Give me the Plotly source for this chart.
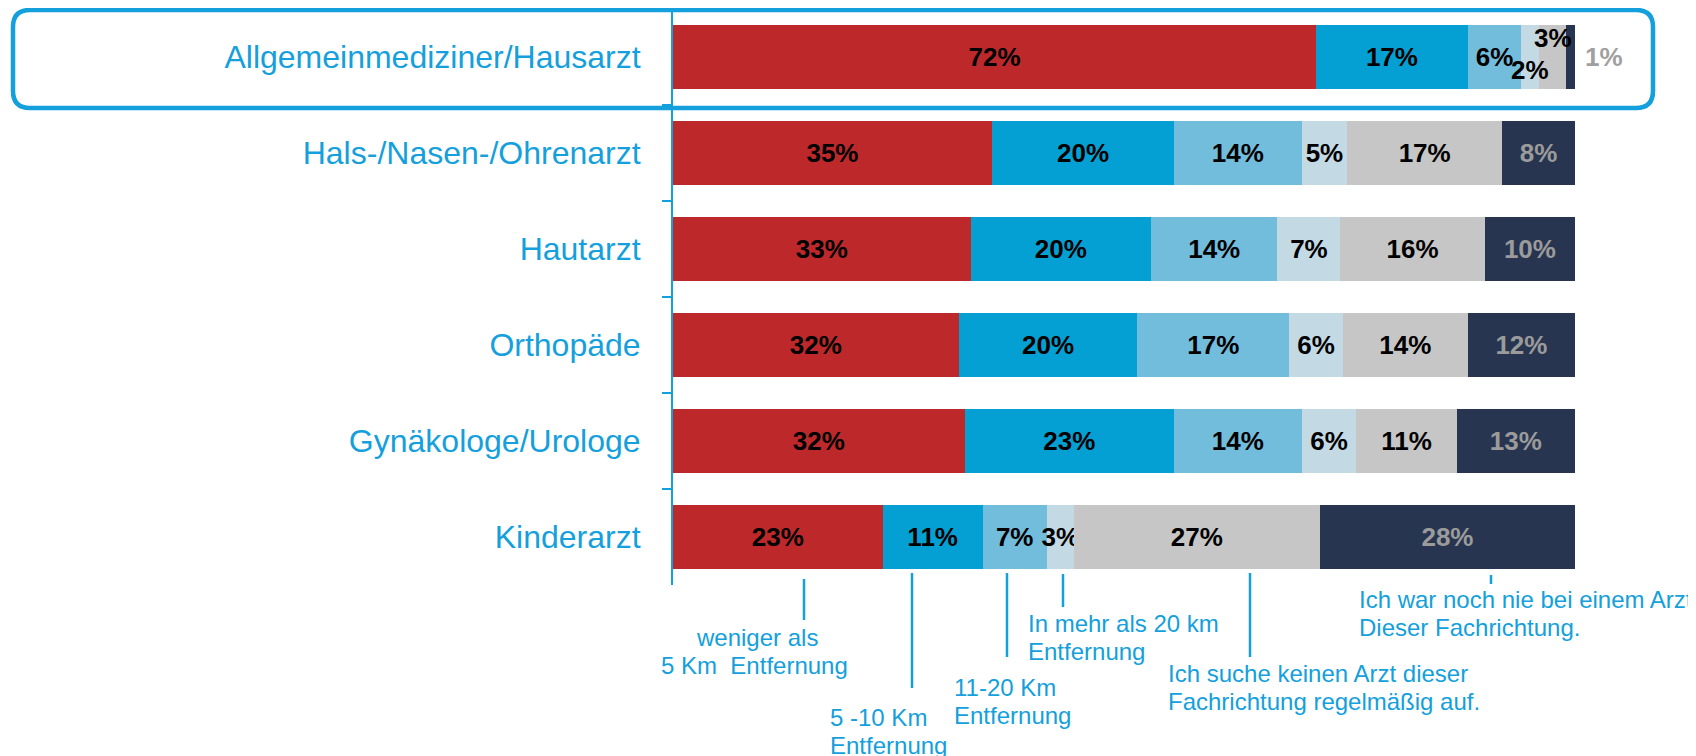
import plotly.graph_objects as go

# ---------------- data ----------------
categories = ["Allgemeinmediziner/Hausarzt", "Hals-/Nasen-/Ohrenarzt", "Hautarzt",
              "Orthopäde", "Gynäkologe/Urologe", "Kinderarzt"]

under_5km = [72, 35, 33, 32, 32, 23]
km_5_10 = [17, 20, 20, 20, 23, 11]
km_11_20 = [6, 14, 14, 17, 14, 7]
over_20km = [2, 5, 7, 6, 6, 3]
no_regular = [3, 17, 16, 14, 11, 27]
never_visited = [1, 8, 10, 12, 13, 28]

series_names = ["weniger als 5 Km Entfernung", "5 -10 Km Entfernung", "11-20 Km Entfernung",
                "In mehr als 20 km Entfernung",
                "Ich suche keinen Arzt dieser Fachrichtung regelmäßig auf.",
                "Ich war noch nie bei einem Arzt Dieser Fachrichtung."]
series_values = [under_5km, km_5_10, km_11_20, over_20km, no_regular, never_visited]

# ---------------- style ----------------
seg_colors = ["#BD282B", "#05A0D3", "#72BCDC", "#C3DAE5", "#C6C6C6", "#283550"]
label_colors = ["#000000", "#000000", "#000000", "#000000", "#000000", "#9B9B9B"]
BLUE = "#14A0DC"
FONT = "Liberation Sans, Arial, sans-serif"

OFF = 8  # page body margin
W, H = 1696 - OFF, 756 - OFF
PL, PR, PT, PB = 673 - OFF, 1575 - OFF, 9 - OFF, 585 - OFF


def px(x):
    return (x - OFF - PL) / (PR - PL)


def py(y):
    return (PB - (y - OFF)) / (PB - PT)


fig = go.Figure()

# small segments in the first row get their labels placed outside the bar
offset_labels = {3, 4, 5}

for i, (name, vals) in enumerate(zip(series_names, series_values)):
    texts = []
    for j, v in enumerate(vals):
        if j == 0 and i in offset_labels:
            texts.append("")
        else:
            texts.append(f"{v}%")
    fig.add_trace(go.Bar(
        y=categories, x=vals, orientation="h", name=name,
        marker=dict(color=seg_colors[i], line=dict(width=0)),
        text=texts, textposition="inside", insidetextanchor="middle", textangle=0,
        textfont=dict(family=FONT, size=26, color=label_colors[i], weight="bold"),
        hoverinfo="skip",
    ))

# midpoints of the first row's segments (normalised like barnorm="percent")
row0 = [s[0] for s in series_values]
tot0 = sum(row0)
cum = 0
mids = []
for v in row0:
    mids.append((cum + v / 2) / tot0 * 100)
    cum += v

annotations = []
annotations.append(dict(x=mids[3], y=categories[0], xref="x", yref="y", text=f"{row0[3]}%",
                        showarrow=False, yshift=-13, xanchor="center", yanchor="middle",
                        font=dict(family=FONT, size=26, color="#000000", weight="bold")))
annotations.append(dict(x=mids[4], y=categories[0], xref="x", yref="y", text=f"{row0[4]}%",
                        showarrow=False, yshift=19, xanchor="center", yanchor="middle",
                        font=dict(family=FONT, size=26, color="#000000", weight="bold")))
annotations.append(dict(x=100, y=categories[0], xref="x", yref="y", text=f"{row0[5]}%",
                        showarrow=False, xshift=8, xanchor="left", yanchor="middle",
                        font=dict(family=FONT, size=26, color="#A0A0A0", weight="bold")))

# callout legend below the chart (reference pixel positions)
callouts = [
    (804, 579, 620, [("weniger als", 757, 637, "center"), ("5 Km\u00a0 Entfernung", 754, 665, "center")]),
    (912, 573, 688, [("5 -10 Km", 828, 717, "left"), ("Entfernung", 828, 745, "left")]),
    (1007, 573, 657, [("11-20 Km", 952, 687, "left"), ("Entfernung", 952, 715, "left")]),
    (1063, 574, 607, [("In mehr als 20 km", 1026, 623, "left"), ("Entfernung", 1026, 651, "left")]),
    (1250, 573, 657, [("Ich suche keinen Arzt dieser", 1166, 673, "left"),
                      ("Fachrichtung regelmäßig auf.", 1166, 701, "left")]),
    (1491, 575, 584, [("Ich war noch nie bei einem Arzt", 1357, 599, "left"),
                      ("Dieser Fachrichtung.", 1357, 627, "left")]),
]

shapes = []
for lx, ly0, ly1, lines in callouts:
    shapes.append(dict(type="line", xref="paper", yref="paper",
                       x0=px(lx), x1=px(lx), y0=py(ly0), y1=py(ly1),
                       line=dict(color=BLUE, width=2.5)))
    for t, tx, ty, anc in lines:
        annotations.append(dict(x=px(tx), y=py(ty), xref="paper", yref="paper", text=t,
                                showarrow=False, xanchor=anc, yanchor="middle",
                                font=dict(family=FONT, size=24, color=BLUE)))

# rounded highlight box around the first row
x0, x1, y0, y1, r = 13, 1653, 10, 108, 17
pts = [
    ("M", x0 + r, y0), ("L", x1 - r, y0), ("Q", x1, y0, x1, y0 + r), ("L", x1, y1 - r),
    ("Q", x1, y1, x1 - r, y1), ("L", x0 + r, y1), ("Q", x0, y1, x0, y1 - r), ("L", x0, y0 + r),
    ("Q", x0, y0, x0 + r, y0),
]
path = ""
for p in pts:
    cmd = p[0]
    coords = p[1:]
    seg = []
    for k in range(0, len(coords), 2):
        seg.append(f"{px(coords[k]):.5f},{py(coords[k + 1]):.5f}")
    path += cmd + " " + " ".join(seg) + " "
path += "Z"
shapes.append(dict(type="path", xref="paper", yref="paper", path=path,
                   line=dict(color=BLUE, width=4.5), fillcolor="rgba(0,0,0,0)", layer="above"))

fig.update_layout(
    width=W, height=H,
    margin=dict(l=PL, r=W - PR, t=PT, b=H - PB, pad=0),
    barmode="stack", barnorm="percent", bargap=0.333,
    plot_bgcolor="white", paper_bgcolor="white",
    showlegend=False,
    uniformtext=dict(minsize=26, mode="show"),
    xaxis=dict(range=[0, 100], visible=False, fixedrange=True),
    yaxis=dict(categoryorder="array", categoryarray=categories, autorange="reversed",
               showline=True, linecolor=BLUE, linewidth=2, showgrid=False, zeroline=False,
               ticks="outside", tickson="boundaries", ticklen=9, tickwidth=2, tickcolor=BLUE,
               ticklabelstandoff=24,
               tickfont=dict(family=FONT, size=32, color=BLUE)),
    shapes=shapes, annotations=annotations,
)

fig.write_html("out.html")
